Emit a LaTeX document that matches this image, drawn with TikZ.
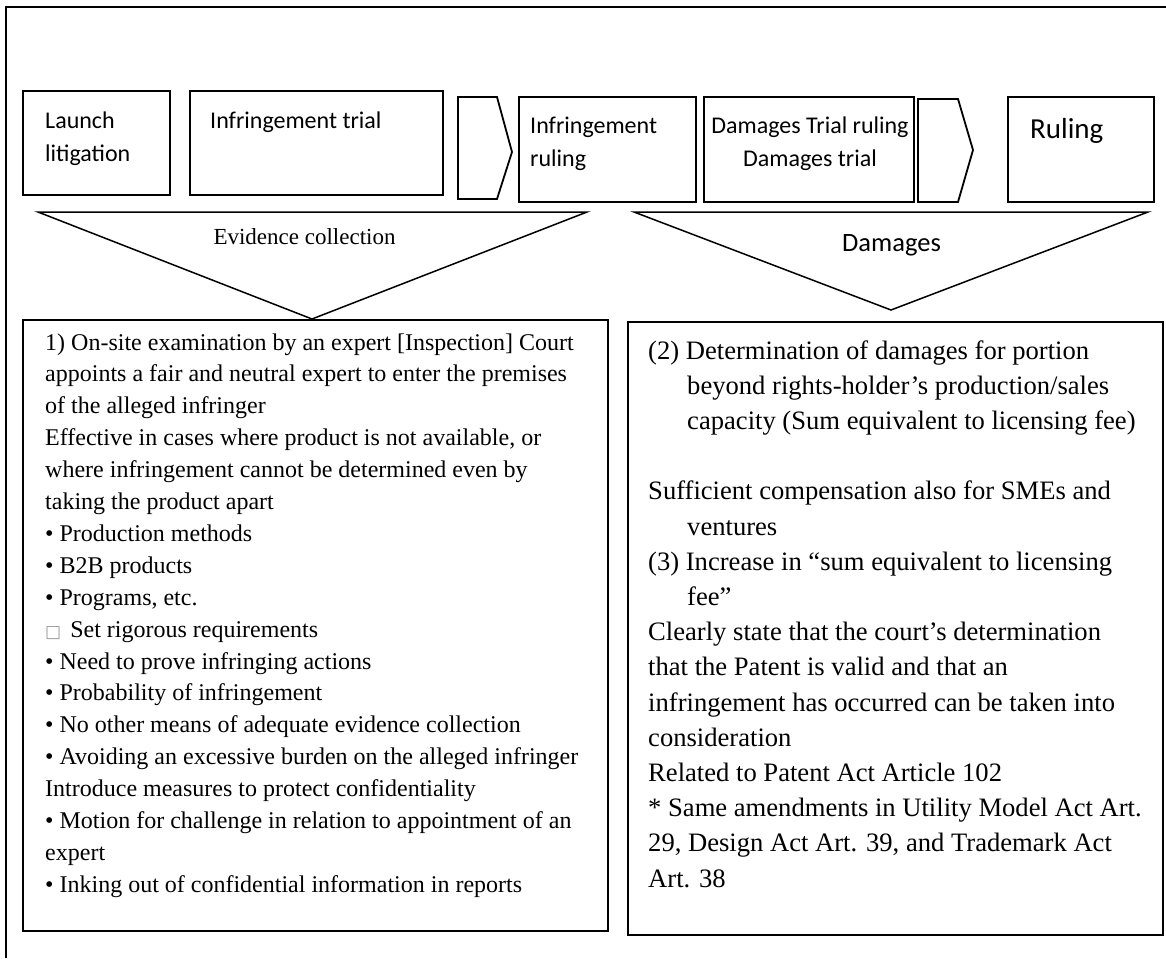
\documentclass[tikz,border=0pt]{standalone}
\usepackage{fontspec}
\setmainfont{Liberation Serif}
\newfontfamily\calib{Carlito}
\newfontfamily\djv{DejaVu Sans}
\begin{document}
\begin{tikzpicture}[x=1pt,y=-1pt,
  boxline/.style={draw=black, line width=1.8pt},
  triline/.style={draw=black, line width=1.5pt, line join=miter},
  lbl/.style={inner sep=0pt, anchor=base west},
  clbl/.style={inner sep=0pt, anchor=base}]
\useasboundingbox (0,0) rectangle (1166,958);
% outer frame
\draw[line width=2pt] (1166,7) -- (6,7) -- (6,958);
% top row boxes
\draw[boxline] (23,91) rectangle (170,195);
\draw[boxline] (190,91) rectangle (443,195);
\draw[boxline] (458,97) -- (497,97) -- (512,152) -- (497,199) -- (458,199) -- cycle;
\draw[boxline] (519,97) rectangle (696,202);
\draw[boxline] (704,97) rectangle (914,202);
\draw[boxline] (918,99) -- (958,99) -- (973,150) -- (958,202) -- (918,202) -- cycle;
\draw[boxline] (1008,97) rectangle (1154,202);
% top row labels
\node[lbl] (launch) at (45,128) {\begin{minipage}[t]{120pt}\calib\fontsize{24}{33}\selectfont Launch\\litigation\end{minipage}};
\node[lbl] (inftrial) at (210,128) {\calib\fontsize{24}{33}\selectfont Infringement trial};
\node[lbl] (infruling) at (530,133) {\begin{minipage}[t]{160pt}\calib\fontsize{24}{33}\selectfont Infringement\\ruling\end{minipage}};
\node[clbl] (dmgtrial) at (810,133) {\begin{minipage}[t]{220pt}\centering\calib\fontsize{24}{33}\selectfont Damages Trial ruling\\Damages trial\end{minipage}};
\node[lbl] (ruling) at (1030,138) {\calib\fontsize{29}{35}\selectfont Ruling};
% funnels
\draw[triline] (38,212) -- (587,212) -- (312,319) -- cycle;
\draw[triline] (634,212) -- (1148,212) -- (891,310) -- cycle;
\node[clbl] (evid) at (304.5,244.5) {\fontsize{23}{28}\selectfont Evidence collection};
\node[clbl] (dmg) at (891.5,251) {\calib\fontsize{26.5}{32}\selectfont Damages};
% lower boxes
\draw[boxline] (23,320) rectangle (608,931);
\draw[boxline] (628,322) rectangle (1163,935);
\node[lbl] (lefttext) at (45,350) {\begin{minipage}[t]{560pt}\raggedright\fontsize{24}{31.9}\selectfont
1) On-site examination by an expert [Inspection] Court\\
appoints a fair and neutral expert to enter the premises\\
of the alleged infringer\\
Effective in cases where product is not available, or\\
where infringement cannot be determined even by\\
taking the product apart\\
• Production methods\\
• B2B products\\
• Programs, etc.\\
{\color{black!40}\djv\fontsize{17}{31.9}\selectfont □}\hspace{9pt}Set rigorous requirements\\
• Need to prove infringing actions\\
• Probability of infringement\\
• No other means of adequate evidence collection\\
• Avoiding an excessive burden on the alleged infringer\\
Introduce measures to protect confidentiality\\
• Motion for challenge in relation to appointment of an\\
expert\\
• Inking out of confidential information in reports
\end{minipage}};
\node[lbl] (righttext) at (648,359) {\begin{minipage}[t]{510pt}\raggedright\fontsize{26.6}{35.2}\selectfont
(2) Determination of damages for portion\\
\hspace*{39pt}beyond rights-holder’s production/sales\\
\hspace*{39pt}capacity (Sum equivalent to licensing fee)\\
\mbox{}\\
Sufficient compensation also for SMEs and\\
\hspace*{39pt}ventures\\
(3) Increase in “sum equivalent to licensing\\
\hspace*{39pt}fee”\\
Clearly state that the court’s determination\\
that the Patent is valid and that an\\
infringement has occurred can be taken into\\
consideration\\
Related to Patent Act Article 102\\
{*} Same amendments in Utility Model Act Art.\\
29, Design Act Art. 39, and Trademark Act\\
Art. 38
\end{minipage}};
\end{tikzpicture}
\end{document}
